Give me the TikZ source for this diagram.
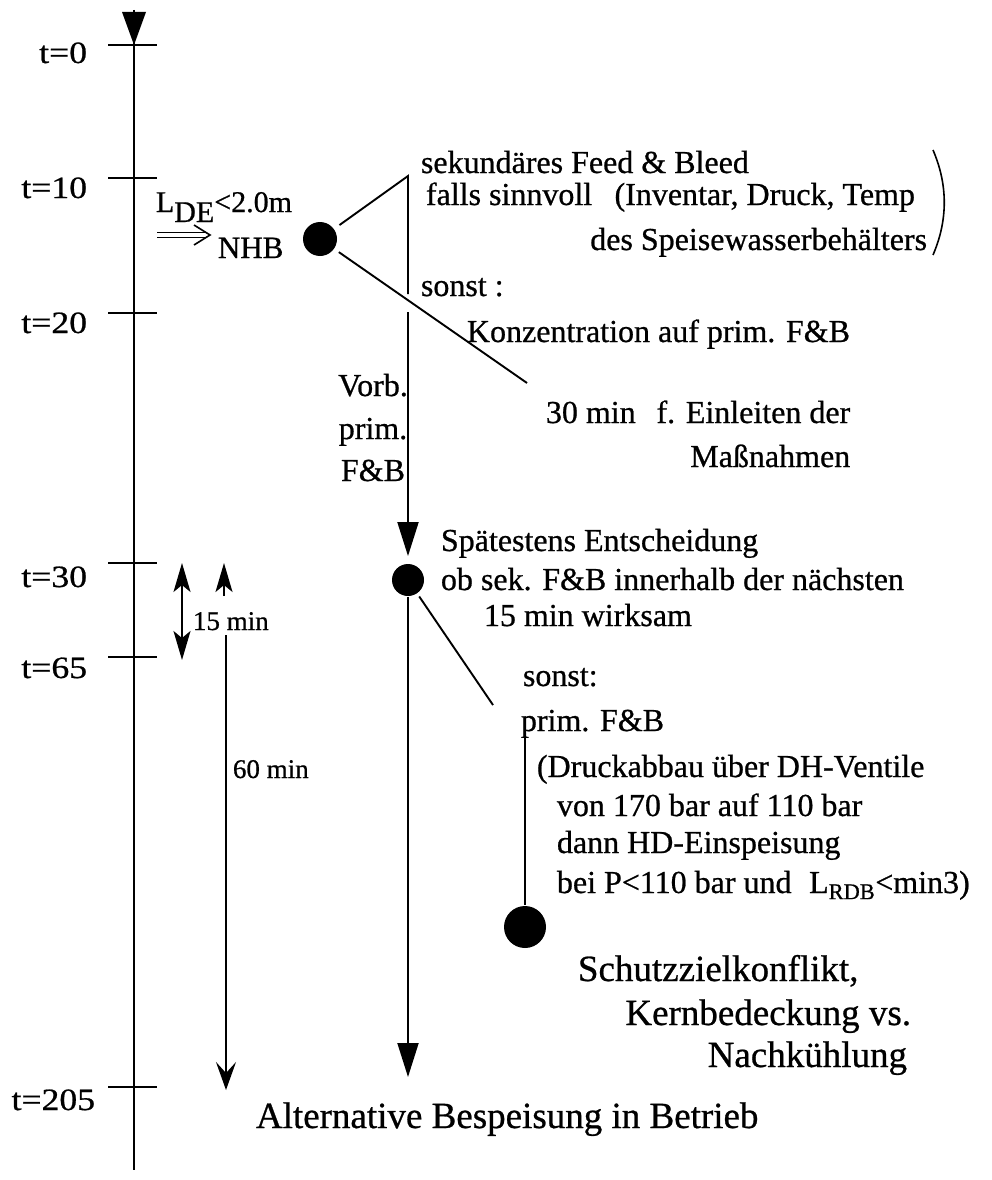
\documentclass[tikz,border=0pt]{standalone}
\usepackage{fontspec}
\setmainfont{Liberation Serif}[FakeBold=0.7]
\usetikzlibrary{arrows.meta}
\begin{document}
\begin{tikzpicture}[x=1pt,y=-1pt,line width=1.9pt,
  txt/.style={font=\fontsize{32}{38}\selectfont,inner sep=0pt,anchor=base west},
  txtr/.style={txt,anchor=base east},
  txtc/.style={txt,anchor=base},
  big/.style={font=\fontsize{37}{44}\selectfont,inner sep=0pt,anchor=base west},
  bigr/.style={big,anchor=base east},
  small/.style={font=\fontsize{27}{32}\selectfont,inner sep=0pt,anchor=base west},
  tlab/.style={font=\fontsize{31}{36}\selectfont,inner sep=0pt,anchor=base east},
  dot/.style={circle,fill=black,inner sep=0pt},
  tri/.style={-{Triangle[length=34pt,width=21pt]}},
  stl/.style={-{Stealth[length=29pt,width=17pt,inset=7pt]}},
  dstl/.style={{Stealth[length=29pt,width=17pt,inset=7pt]}-{Stealth[length=29pt,width=17pt,inset=7pt]}},
  vstl/.style={-{Stealth[length=28pt,width=20pt,inset=11pt]}}]

\fill[white] (0,0) rectangle (992,1180);
\useasboundingbox (0,0) rectangle (992,1180);

% time axis
\coordinate (axtop) at (134,10);
\coordinate (axbot) at (134,1170);
\draw (axtop) -- (axbot);
\fill (122,12) -- (146,12) -- (134,45) -- cycle;
\foreach \yy in {45,178,313,563,657,1087}
  \draw (108,\yy) -- (157,\yy);

\node[tlab] (t0)   at (88,63)   {\scalebox{1.15}[1]{t=0}};
\node[tlab] (t10)  at (88,198)  {\scalebox{1.15}[1]{t=10}};
\node[tlab] (t20)  at (88,333)  {\scalebox{1.15}[1]{t=20}};
\node[tlab] (t30)  at (88,587)  {\scalebox{1.15}[1]{t=30}};
\node[tlab] (t65)  at (88,678)  {\scalebox{1.15}[1]{t=65}};
\node[tlab] (t205) at (96,1110) {\scalebox{1.15}[1]{t=205}};

% left label
\node[font=\fontsize{30}{36}\selectfont,inner sep=0pt,anchor=base west] (lde) at (155,212) {L\raisebox{-10pt}{DE}<2.0m};
\coordinate (ia) at (157,235);
\coordinate (ib) at (210,235);
\draw[line width=1.2pt,double distance=3.5pt,shorten >=5pt] (ia) -- (ib);
\draw[line width=1.6pt] (194,225) -- (ib) -- (194,245);
\node[font=\fontsize{31}{36}\selectfont,inner sep=0pt,anchor=base west] (nhb) at (217,258) {NHB};

% first decision
\node[dot,minimum size=34pt] (d1) at (320,239) {};
\coordinate (apex) at (408,176);
\coordinate (sgap) at (408,294);
\coordinate (sarr) at (408,312);
\coordinate (e1) at (527,383);
\draw[shorten <=6pt] (d1) -- (apex) -- (sgap);
\draw[shorten <=5pt] (d1) -- (e1);

\node[txt] (sek)   at (420,173) {sekundäres Feed \& Bleed};
\node[txt] (falls) at (425,205) {falls sinnvoll\hspace{0.7em}(Inventar, Druck, Temp};
\node[txtr] (des)  at (928,250) {des Speisewasserbehälters};
\draw[line width=1.6pt] (933,150) .. controls (948,185) and (948,220) .. (933,255);
\node[txt] (sonst1) at (420,296) {sonst :};
\node[txt] (konz)   at (466,342) {Konzentration auf prim. F\&B};

\node[txtc] (vorb)  at (373,396) {Vorb.};
\node[txtc] (vprim) at (373,439) {prim.};
\node[txtc] (vfb)   at (373,481) {F\&B};

\node[txt] (m30)  at (545,423) {30 min\hspace{0.4em} f. Einleiten der};
\node[txtr] (mass) at (m30.base east) [yshift=-44pt] {Maßnahmen};

% second decision
\node[dot,minimum size=32pt] (d2) at (408,580) {};
\draw[tri,shorten >=7pt] (sarr) -- (d2.north);
\coordinate (tip2) at (408,1077);
\draw[tri] (d2.south) -- (tip2);
\coordinate (e2) at (493,705);
\draw[shorten <=3pt] (d2) -- (e2);

\node[txt] (spaet) at (440,551) {Spätestens Entscheidung};
\node[txt] (obsek) at (440,590) {ob sek. F\&B innerhalb der nächsten};
\node[txt] (wirk)  at (483,626) {15 min wirksam};

\node[txt] (sonst2) at (522,686) {sonst:};
\node[txt] (pfb)    at (520,731) {prim. F\&B};
\node[txt] (druck)  at (536,777) {(Druckabbau über DH-Ventile};
\node[txt] (von)    at (556,816) {von 170 bar auf 110 bar};
\node[txt] (dann)   at (556,853) {dann HD-Einspeisung};
\node[txt] (bei)    at (556,893) {bei P<110 bar und\hspace{0.3em} L\textsubscript{RDB}<min3)};

\node[dot,minimum size=42pt] (d3) at (525,927) {};
\coordinate (l3) at (525,737);
\draw (l3) -- (d3);

\node[big]  (schutz) at (577,981)  {Schutzzielkonflikt,};
\node[bigr] (kern)   at (912,1025) {Kernbedeckung vs.};
\node[bigr] (nach)   at (908,1067) {Nachkühlung};
\node[big]  (alt)    at (255,1128) {Alternative Bespeisung in Betrieb};

% duration arrows
\coordinate (m15a) at (182,563);
\coordinate (m15b) at (182,660);
\draw[dstl] (m15a) -- (m15b);
\coordinate (u1) at (224,596);
\coordinate (u2) at (224,563);
\draw[stl] (u1) -- (u2);
\coordinate (s60a) at (226,635);
\coordinate (s60b) at (226,1090);
\draw[vstl] (s60a) -- (s60b);
\node[small] (l15) at (192,630) {15 min};
\node[small] (l60) at (232,778) {60 min};
\end{tikzpicture}
\end{document}
